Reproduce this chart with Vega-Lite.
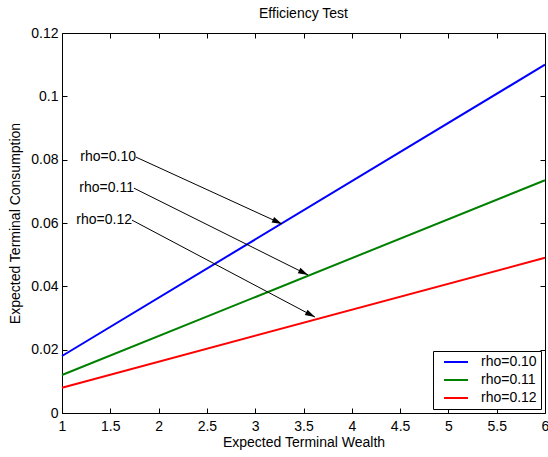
{
  "$schema": "https://vega.github.io/schema/vega-lite/v6.json",
  "width": 483,
  "height": 380,
  "autosize": {"type": "none"},
  "padding": {"left": 62, "top": 33, "right": 3, "bottom": 44},
  "background": "white",
  "title": {"text": "Efficiency Test", "fontSize": 14, "fontWeight": "normal", "font": "Liberation Sans", "color": "black", "offset": 5},
  "config": {
    "font": "Liberation Sans",
    "view": {"stroke": "black", "strokeWidth": 1},
    "axis": {
      "grid": false,
      "domainColor": "black",
      "tickColor": "black",
      "labelColor": "black",
      "titleColor": "black",
      "labelFont": "Liberation Sans",
      "titleFont": "Liberation Sans",
      "labelFontSize": 14,
      "titleFontSize": 14,
      "titleFontWeight": "normal",
      "tickSize": -5,
      "labelPadding": 9
    },
    "legend": {
      "labelFont": "Liberation Sans",
      "labelFontSize": 14,
      "labelColor": "black"
    }
  },
  "datasets": {
    "curves": [
      {"series": "rho=0.10", "wealth": 1, "consumption": 0.018},
      {"series": "rho=0.10", "wealth": 6, "consumption": 0.110},
      {"series": "rho=0.11", "wealth": 1, "consumption": 0.012},
      {"series": "rho=0.11", "wealth": 6, "consumption": 0.0735},
      {"series": "rho=0.12", "wealth": 1, "consumption": 0.008},
      {"series": "rho=0.12", "wealth": 6, "consumption": 0.049}
    ],
    "notes": [
      {"label": "rho=0.10", "x1": 1.766, "y1": 0.0808, "x2": 3.277, "y2": 0.0597},
      {"label": "rho=0.11", "x1": 1.745, "y1": 0.0710, "x2": 3.547, "y2": 0.0436},
      {"label": "rho=0.12", "x1": 1.725, "y1": 0.0609, "x2": 3.619, "y2": 0.0303}
    ]
  },
  "layer": [
    {
      "data": {"name": "curves"},
      "mark": {"type": "line", "strokeWidth": 2},
      "encoding": {
        "x": {"field": "wealth", "type": "quantitative", "scale": {"domain": [1, 6], "nice": false, "zero": false},
              "axis": {"orient": "bottom", "title": "Expected Terminal Wealth", "values": [1, 1.5, 2, 2.5, 3, 3.5, 4, 4.5, 5, 5.5, 6], "format": ".1~f", "labelFlush": false, "labelPadding": 11, "titlePadding": 2}},
        "y": {"field": "consumption", "type": "quantitative", "scale": {"domain": [0, 0.12], "nice": false},
              "axis": {"orient": "left", "title": "Expected Terminal Consumption", "values": [0, 0.02, 0.04, 0.06, 0.08, 0.1, 0.12], "format": ".2~f", "labelFlush": false, "titlePadding": 8}},
        "color": {"field": "series", "type": "nominal",
                  "scale": {"domain": ["rho=0.10", "rho=0.11", "rho=0.12"], "range": ["#0000ff", "#008000", "#ff0000"]},
                  "legend": {"title": null, "orient": "bottom-right", "offset": 4, "strokeColor": "black", "fillColor": "white", "padding": 4,
                             "symbolType": "M-3,0L3,0", "symbolSize": 64, "symbolStrokeWidth": 2, "symbolOffset": 12, "labelOffset": 18, "rowPadding": 4}}
      }
    },
    {
      "data": {"name": "notes"},
      "mark": {"type": "rule", "color": "black", "strokeWidth": 1},
      "encoding": {
        "x": {"field": "x1", "type": "quantitative", "axis": {"orient": "top", "title": null, "labels": false, "domain": false, "values": [1, 1.5, 2, 2.5, 3, 3.5, 4, 4.5, 5, 5.5, 6]}},
        "y": {"field": "y1", "type": "quantitative", "axis": {"orient": "right", "title": null, "labels": false, "domain": false, "values": [0, 0.02, 0.04, 0.06, 0.08, 0.1, 0.12]}},
        "x2": {"field": "x2"},
        "y2": {"field": "y2"}
      }
    },
    {
      "data": {"name": "notes"},
      "mark": {"type": "text", "align": "right", "baseline": "middle", "fontSize": 14, "font": "Liberation Sans", "color": "black"},
      "encoding": {
        "x": {"field": "x1", "type": "quantitative", "axis": null},
        "y": {"field": "y1", "type": "quantitative", "axis": null},
        "text": {"field": "label"}
      }
    },
    {
      "data": {"name": "notes"},
      "transform": [{"filter": "datum.label == 'rho=0.10'"}],
      "mark": {"type": "point", "shape": "M0,0L-2,-0.6L-2,0.6Z", "size": 100, "filled": true, "color": "black", "opacity": 1, "angle": 24.6},
      "encoding": {
        "x": {"field": "x2", "type": "quantitative", "axis": null},
        "y": {"field": "y2", "type": "quantitative", "axis": null}
      }
    },
    {
      "data": {"name": "notes"},
      "transform": [{"filter": "datum.label == 'rho=0.11'"}],
      "mark": {"type": "point", "shape": "M0,0L-2,-0.6L-2,0.6Z", "size": 100, "filled": true, "color": "black", "opacity": 1, "angle": 26.6},
      "encoding": {
        "x": {"field": "x2", "type": "quantitative", "axis": null},
        "y": {"field": "y2", "type": "quantitative", "axis": null}
      }
    },
    {
      "data": {"name": "notes"},
      "transform": [{"filter": "datum.label == 'rho=0.12'"}],
      "mark": {"type": "point", "shape": "M0,0L-2,-0.6L-2,0.6Z", "size": 100, "filled": true, "color": "black", "opacity": 1, "angle": 27.9},
      "encoding": {
        "x": {"field": "x2", "type": "quantitative", "axis": null},
        "y": {"field": "y2", "type": "quantitative", "axis": null}
      }
    }
  ],
  "resolve": {"axis": {"x": "independent", "y": "independent"}}
}
